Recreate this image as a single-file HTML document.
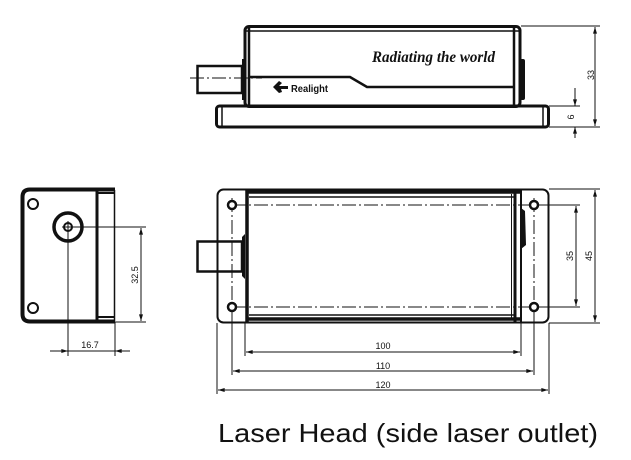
<!DOCTYPE html>
<html><head><meta charset="utf-8"><style>
html,body{margin:0;padding:0;background:#fff;}
svg{display:block;}
text{font-family:"Liberation Sans",sans-serif;fill:#111;}
</style></head><body>
<svg width="631" height="460" viewBox="0 0 631 460" xmlns="http://www.w3.org/2000/svg">
<defs>
<marker id="a" viewBox="0 0 10 6" refX="10" refY="3" markerWidth="7" markerHeight="4" orient="auto-start-reverse" markerUnits="userSpaceOnUse"><path d="M0,0L10,3L0,6z" fill="#111"/></marker>
</defs>
<g fill="none" stroke="#111">
<rect x="216.5" y="106" width="332" height="21" rx="3" stroke-width="3"/>
<line x1="222" y1="107" x2="222" y2="126" stroke-width="1.5"/>
<line x1="543" y1="107" x2="543" y2="126" stroke-width="1.5"/>
<rect x="245" y="26.5" width="275" height="80" rx="4" stroke-width="3"/>
<line x1="246" y1="31" x2="519" y2="31" stroke-width="1.5"/>
<line x1="249" y1="28" x2="249" y2="106" stroke-width="2.5"/>
<line x1="514" y1="28" x2="514" y2="106" stroke-width="2.5"/>
<path d="M249,77 L350,77 L367,87 L514,87" stroke-width="2.5"/>
<rect x="242" y="59" width="3" height="41" fill="#111" stroke="none"/>
<rect x="520" y="59" width="5" height="41" rx="2" fill="#111" stroke="none"/>
<rect x="197.5" y="66" width="44.5" height="27" stroke-width="2.5"/>
<line x1="190" y1="78" x2="262" y2="78" stroke-width="1" stroke-dasharray="14,3,2,3"/>
<path d="M273,87 L279,81 L282,83 L279,86 L288,86 L288,89 L281,89 L282,92 L279,93 Z" fill="#111" stroke="none"/>
<line x1="521" y1="26" x2="600" y2="26" stroke-width="1"/>
<line x1="549" y1="106" x2="580" y2="106" stroke-width="1"/>
<line x1="549" y1="127" x2="600" y2="127" stroke-width="1"/>
<line x1="595" y1="27" x2="595" y2="126" stroke-width="1" marker-start="url(#a)" marker-end="url(#a)"/>
<line x1="575" y1="88" x2="575" y2="106" stroke-width="1" marker-end="url(#a)"/>
<line x1="575" y1="138" x2="575" y2="127" stroke-width="1" marker-end="url(#a)"/>

<path d="M115,189.5 L30,189.5 Q22.5,189.5 22.5,197 L22.5,314 Q22.5,321.5 30,321.5 L115,321.5" stroke-width="4"/>
<line x1="97" y1="190" x2="97" y2="321" stroke-width="3"/>
<line x1="114.5" y1="190" x2="114.5" y2="321" stroke-width="1.5"/>
<line x1="98" y1="193" x2="114" y2="193" stroke-width="2"/>
<line x1="98" y1="317" x2="114" y2="317" stroke-width="2"/>
<circle cx="33" cy="204" r="5" stroke-width="2"/>
<circle cx="33" cy="308" r="5" stroke-width="2"/>
<circle cx="68" cy="227" r="14" stroke-width="3.5"/>
<circle cx="68" cy="227" r="4" stroke-width="2"/>
<line x1="68" y1="221" x2="68" y2="356" stroke-width="1"/>
<line x1="62" y1="227" x2="146" y2="227" stroke-width="1"/>
<line x1="115" y1="322" x2="146" y2="322" stroke-width="1"/>
<line x1="115" y1="322" x2="115" y2="356" stroke-width="1"/>
<line x1="141" y1="228" x2="141" y2="321" stroke-width="1" marker-start="url(#a)" marker-end="url(#a)"/>
<line x1="50" y1="351" x2="68" y2="351" stroke-width="1" marker-end="url(#a)"/>
<line x1="130" y1="351" x2="115" y2="351" stroke-width="1" marker-end="url(#a)"/>
<line x1="68" y1="351" x2="115" y2="351" stroke-width="1"/>

<rect x="217.5" y="189.5" width="331" height="133" rx="6" stroke-width="2"/>
<line x1="246" y1="192" x2="520" y2="192" stroke-width="3.5"/>
<line x1="249" y1="197" x2="514" y2="197" stroke-width="1.5"/>
<line x1="246" y1="319" x2="520" y2="319" stroke-width="3.5"/>
<line x1="249" y1="315" x2="514" y2="315" stroke-width="1.5"/>
<line x1="247" y1="190" x2="247" y2="322" stroke-width="3.5"/>
<line x1="511.5" y1="194" x2="511.5" y2="318" stroke-width="1"/>
<line x1="515" y1="190" x2="515" y2="322" stroke-width="3"/>
<line x1="521" y1="190" x2="521" y2="322" stroke-width="2"/>
<path d="M521,208 L525,211 L526,245 L521,249 Z" fill="#111" stroke="none"/>
<path d="M245,234 L242,237 L242,276 L245,279 Z" fill="#111" stroke="none"/>
<rect x="197.5" y="241.5" width="44.5" height="30" stroke-width="2.5"/>
<g stroke-width="1" stroke-dasharray="14,3,2,3">
<line x1="232" y1="205" x2="534" y2="205"/>
<line x1="232" y1="307" x2="534" y2="307"/>
<line x1="232" y1="198" x2="232" y2="315"/>
<line x1="534" y1="198" x2="534" y2="315"/>
</g>
<circle cx="232" cy="205" r="4" stroke-width="2.5" fill="#fff"/>
<circle cx="232" cy="307" r="4" stroke-width="2.5" fill="#fff"/>
<circle cx="534" cy="205" r="4" stroke-width="2.5" fill="#fff"/>
<circle cx="534" cy="307" r="4" stroke-width="2.5" fill="#fff"/>
<line x1="549" y1="189" x2="600" y2="189" stroke-width="1"/>
<line x1="549" y1="323" x2="600" y2="323" stroke-width="1"/>
<line x1="538" y1="205" x2="580" y2="205" stroke-width="1"/>
<line x1="538" y1="307" x2="580" y2="307" stroke-width="1"/>
<line x1="595" y1="190" x2="595" y2="322" stroke-width="1" marker-start="url(#a)" marker-end="url(#a)"/>
<line x1="576" y1="206" x2="576" y2="306" stroke-width="1" marker-start="url(#a)" marker-end="url(#a)"/>
<line x1="245" y1="323" x2="245" y2="356" stroke-width="1"/>
<line x1="521" y1="323" x2="521" y2="356" stroke-width="1"/>
<line x1="232" y1="311" x2="232" y2="375" stroke-width="1"/>
<line x1="534" y1="311" x2="534" y2="375" stroke-width="1"/>
<line x1="217" y1="323" x2="217" y2="394" stroke-width="1"/>
<line x1="549" y1="323" x2="549" y2="394" stroke-width="1"/>
<line x1="246" y1="352" x2="520" y2="352" stroke-width="1" marker-start="url(#a)" marker-end="url(#a)"/>
<line x1="233" y1="371" x2="533" y2="371" stroke-width="1" marker-start="url(#a)" marker-end="url(#a)"/>
<line x1="218" y1="390" x2="548" y2="390" stroke-width="1" marker-start="url(#a)" marker-end="url(#a)"/>
</g>

<text x="372" y="62" style="font-family:'Liberation Serif',serif;font-style:italic;font-weight:bold;font-size:16px" textLength="123" lengthAdjust="spacingAndGlyphs">Radiating the world</text>
<text x="291" y="92" font-weight="bold" font-size="10" textLength="37" lengthAdjust="spacingAndGlyphs">Realight</text>
<text transform="translate(594,75) rotate(-90)" font-size="9" text-anchor="middle">33</text>
<text transform="translate(574,117) rotate(-90)" font-size="9" text-anchor="middle">6</text>
<text transform="translate(138,275) rotate(-90)" font-size="9" text-anchor="middle">32.5</text>
<text x="90" y="348" font-size="9" text-anchor="middle">16.7</text>
<text transform="translate(573,256) rotate(-90)" font-size="9" text-anchor="middle">35</text>
<text transform="translate(592,256) rotate(-90)" font-size="9" text-anchor="middle">45</text>
<text x="383" y="349" font-size="9" text-anchor="middle">100</text>
<text x="383" y="369" font-size="9" text-anchor="middle">110</text>
<text x="383" y="388" font-size="9" text-anchor="middle">120</text>
<text x="218" y="442" font-size="26" fill="#222" textLength="380" lengthAdjust="spacingAndGlyphs">Laser Head (side laser outlet)</text>
</svg>
</body></html>
